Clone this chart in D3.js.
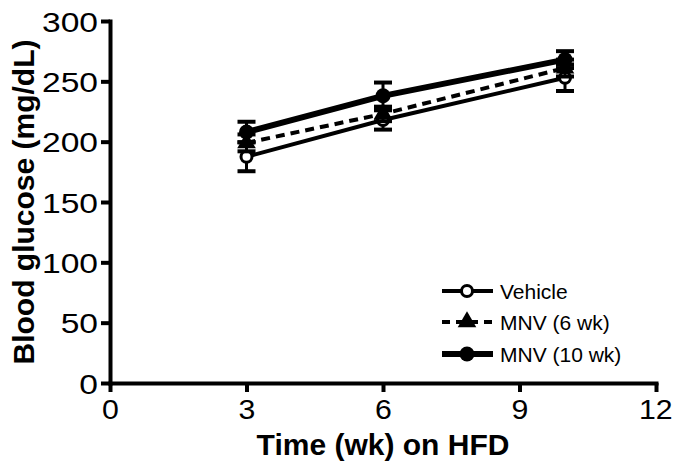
<!DOCTYPE html>
<html><head><meta charset="utf-8">
<script src="https://cdn.jsdelivr.net/npm/d3@7"></script>
<style>body{margin:0;background:#fff}svg{display:block}text{font-family:"Liberation Sans",Arial,sans-serif;fill:#000}</style>
</head><body>
<script>
const weeks = [3, 6, 10];
const seriesNames = ["Vehicle", "MNV (6 wk)", "MNV (10 wk)"];
const vehicleMean = [187.5, 218, 253];
const vehicleErr = [12, 8, 11];
const mnv6Mean = [199, 223, 261];
const mnv6Err = [7, 6, 7];
const mnv10Mean = [208, 238, 268];
const mnv10Err = [8.5, 11, 7];
const xTicks = [0, 3, 6, 9, 12];
const yTicks = [0, 50, 100, 150, 200, 250, 300];
const xTitle = "Time (wk) on HFD";
const yTitle = "Blood glucose (mg/dL)";

const W = 673, H = 467;
const STRETCH_Y = 1.2, STRETCH_X = 1.08;
const svg = d3.select("body").append("svg").attr("width", W).attr("height", H);
const x = d3.scaleLinear().domain([0, 12]).range([110, 656]);
const y = d3.scaleLinear().domain([0, 300]).range([383, 21]);

// axes
const xAxis = svg.append("g").attr("transform", `translate(0,${y(0)})`)
  .call(d3.axisBottom(x).tickValues(xTicks).tickSize(9).tickPadding(4).tickSizeOuter(0));
const yAxis = svg.append("g").attr("transform", `translate(${x(0)},0)`)
  .call(d3.axisLeft(y).tickValues(yTicks).tickSize(9).tickPadding(3).tickSizeOuter(0));
[xAxis, yAxis].forEach(a => {
  a.select(".domain").attr("stroke", "#000").attr("stroke-width", 4).attr("stroke-linecap", "square");
  a.selectAll(".tick line").attr("stroke", "#000").attr("stroke-width", 4);
  a.selectAll(".tick text").attr("font-size", 28).attr("font-family", "Liberation Sans, Arial, sans-serif")
    .attr("fill", "#000");
});
xAxis.selectAll(".tick text").attr("dy", "0.78em").attr("x", 0).attr("y", 14)
  .attr("transform", `scale(${STRETCH_X},1)`);
yAxis.selectAll(".tick text").attr("dy", "0.36em").attr("x", -12 / STRETCH_Y)
  .attr("transform", `scale(${STRETCH_Y},1)`);
// keep the last x label inside the frame
xAxis.selectAll(".tick").filter(d => d === 12).select("text").attr("text-anchor", "end").attr("x", 16 / STRETCH_X);

svg.append("text").attr("x", (x(0) + x(12)) / 2).attr("y", 455).attr("text-anchor", "middle")
  .attr("font-size", 30).attr("font-weight", "bold").text(xTitle);
svg.append("text").attr("transform", `translate(34,${(y(0) + y(300)) / 2}) rotate(-90)`).attr("text-anchor", "middle")
  .attr("font-size", 30).attr("font-weight", "bold").text(yTitle);

const series = [
  {name: seriesNames[0], mean: vehicleMean, err: vehicleErr, width: 4, dash: null, marker: "open"},
  {name: seriesNames[1], mean: mnv6Mean, err: mnv6Err, width: 4, dash: "9,6", marker: "tri"},
  {name: seriesNames[2], mean: mnv10Mean, err: mnv10Err, width: 6, dash: null, marker: "filled"}
];

function drawMarker(g, type, cx, cy) {
  if (type === "open") {
    g.append("circle").attr("cx", cx).attr("cy", cy).attr("r", 5.5).attr("fill", "#fff").attr("stroke", "#000").attr("stroke-width", 3);
  } else if (type === "filled") {
    g.append("circle").attr("cx", cx).attr("cy", cy).attr("r", 7.5).attr("fill", "#000");
  } else {
    g.append("path").attr("transform", `translate(${cx},${cy})`)
      .attr("d", d3.symbol().type(d3.symbolTriangle).size(150)()).attr("fill", "#000");
  }
}

const line = d3.line().x((d, i) => x(weeks[i])).y(d => y(d));
series.forEach(s => {
  const g = svg.append("g");
  s.mean.forEach((m, i) => {
    const cx = x(weeks[i]);
    g.append("line").attr("x1", cx).attr("x2", cx).attr("y1", y(m - s.err[i])).attr("y2", y(m + s.err[i]))
      .attr("stroke", "#000").attr("stroke-width", 3);
    [m - s.err[i], m + s.err[i]].forEach(v => {
      g.append("line").attr("x1", cx - 9).attr("x2", cx + 9).attr("y1", y(v)).attr("y2", y(v))
        .attr("stroke", "#000").attr("stroke-width", 4);
    });
  });
  g.append("path").attr("d", line(s.mean)).attr("fill", "none").attr("stroke", "#000")
    .attr("stroke-width", s.width).attr("stroke-dasharray", s.dash);
  s.mean.forEach((m, i) => drawMarker(g, s.marker, x(weeks[i]), y(m)));
});

// legend
const legY = [291, 322, 354];
series.forEach((s, i) => {
  const g = svg.append("g");
  g.append("line").attr("x1", 442).attr("x2", 493).attr("y1", legY[i]).attr("y2", legY[i])
    .attr("stroke", "#000").attr("stroke-width", s.width).attr("stroke-dasharray", s.dash ? "8,6" : null);
  drawMarker(g, s.marker, 467, legY[i]);
  g.append("text").attr("x", 500).attr("y", legY[i]).attr("dy", "0.36em").attr("font-size", 21).text(s.name);
});
</script>
</body></html>
